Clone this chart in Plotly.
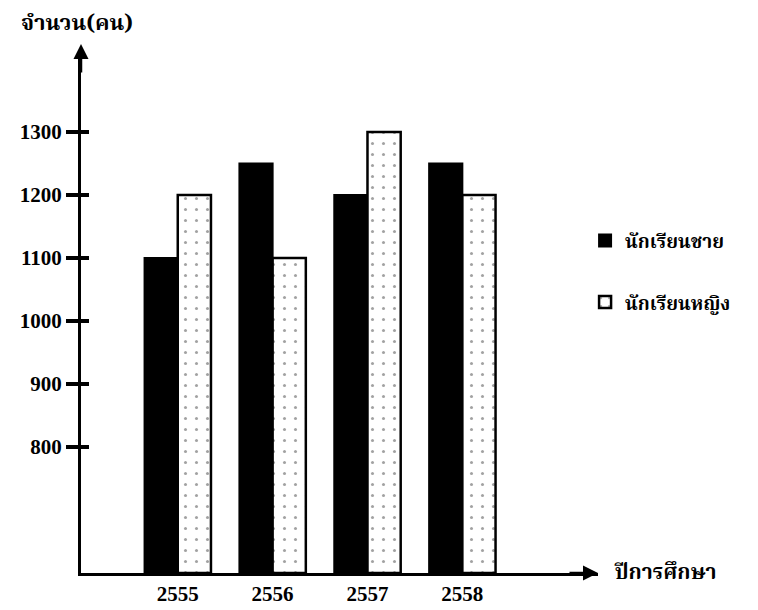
import plotly.graph_objects as go

years = ["2555", "2556", "2557", "2558"]
male = [1100, 1250, 1200, 1250]
female = [1200, 1100, 1300, 1200]
yticks = [800, 900, 1000, 1100, 1200, 1300]
series_names = ["นักเรียนชาย", "นักเรียนหญิง"]
y_base = 600

xpos = list(range(len(years)))
serif = "Liberation Serif, Times New Roman, serif"
thai = "Noto Serif Thai, Noto Sans Thai, Loma, Garuda, serif"

fig = go.Figure()
fig.add_trace(go.Bar(
    x=xpos, y=[v - y_base for v in male], base=y_base, name=series_names[0],
    legendgroup="m",
    marker=dict(color="black", line=dict(color="black", width=2)),
))
fig.add_trace(go.Bar(
    x=xpos, y=[v - y_base for v in female], base=y_base, name=series_names[1],
    legendgroup="f",
    marker=dict(color="white", line=dict(color="black", width=2.5),
                pattern=dict(shape=".", fgcolor="#444", bgcolor="white", size=11, solidity=0.06)),
))

yrange = [600, 1430]
fig.update_layout(
    width=758, height=610,
    margin=dict(l=72, r=168, t=42, b=33),
    paper_bgcolor="white", plot_bgcolor="white",
    barmode="group", bargap=0.3, bargroupgap=0,
    showlegend=True,
    legend=dict(x=0.975, xanchor="left", y=0.672, yanchor="top",
                font=dict(family=thai, size=19, color="black", weight="bold"),
                tracegroupgap=34, itemwidth=30, bgcolor="rgba(0,0,0,0)"),
    font=dict(family=serif, color="black"),
    yaxis2=dict(overlaying="y", side="left", range=yrange, tickvals=yticks,
                showticklabels=False, ticks="inside", ticklen=8, tickwidth=4,
                tickcolor="black", showgrid=False, zeroline=False, showline=False),
)
fig.update_xaxes(
    range=[-1.02, 4.43], tickvals=xpos, ticktext=years,
    showline=True, linecolor="black", linewidth=3,
    showgrid=False, zeroline=False, ticks="",
    tickfont=dict(family=serif, size=21, color="black", weight="bold"),
)
fig.layout.yaxis.update(
    range=yrange, tickvals=yticks,
    showline=True, linecolor="black", linewidth=3,
    showgrid=False, zeroline=False, ticks="outside", ticklen=12, tickwidth=4,
    tickcolor="black",
    tickfont=dict(family=serif, size=21, color="black", weight="bold"),
)
fig.add_trace(go.Scatter(x=[None], y=[None], yaxis="y2", showlegend=False, hoverinfo="skip"))

fig.add_annotation(xref="paper", yref="paper", x=0, y=1.0, yshift=6, ax=0, ay=30,
                   showarrow=True, arrowhead=2, arrowsize=1.2, arrowwidth=2.5,
                   arrowcolor="black", text="")
fig.add_annotation(xref="paper", yref="paper", x=1.0, y=0, ax=-30, ay=0,
                   showarrow=True, arrowhead=2, arrowsize=1.2, arrowwidth=2.5,
                   arrowcolor="black", text="")
fig.add_annotation(xref="paper", yref="paper", x=-0.120, y=1.0, yshift=6,
                   xanchor="left", yanchor="bottom", showarrow=False,
                   text="<b>จำนวน(คน)</b>", font=dict(family=thai, size=22, color="black"))
fig.add_annotation(xref="paper", yref="paper", x=1.0, y=0, xshift=14,
                   xanchor="left", yanchor="middle", showarrow=False,
                   text="<b>ปีการศึกษา</b>", font=dict(family=thai, size=21, color="black"))

fig.write_html("out.html")
